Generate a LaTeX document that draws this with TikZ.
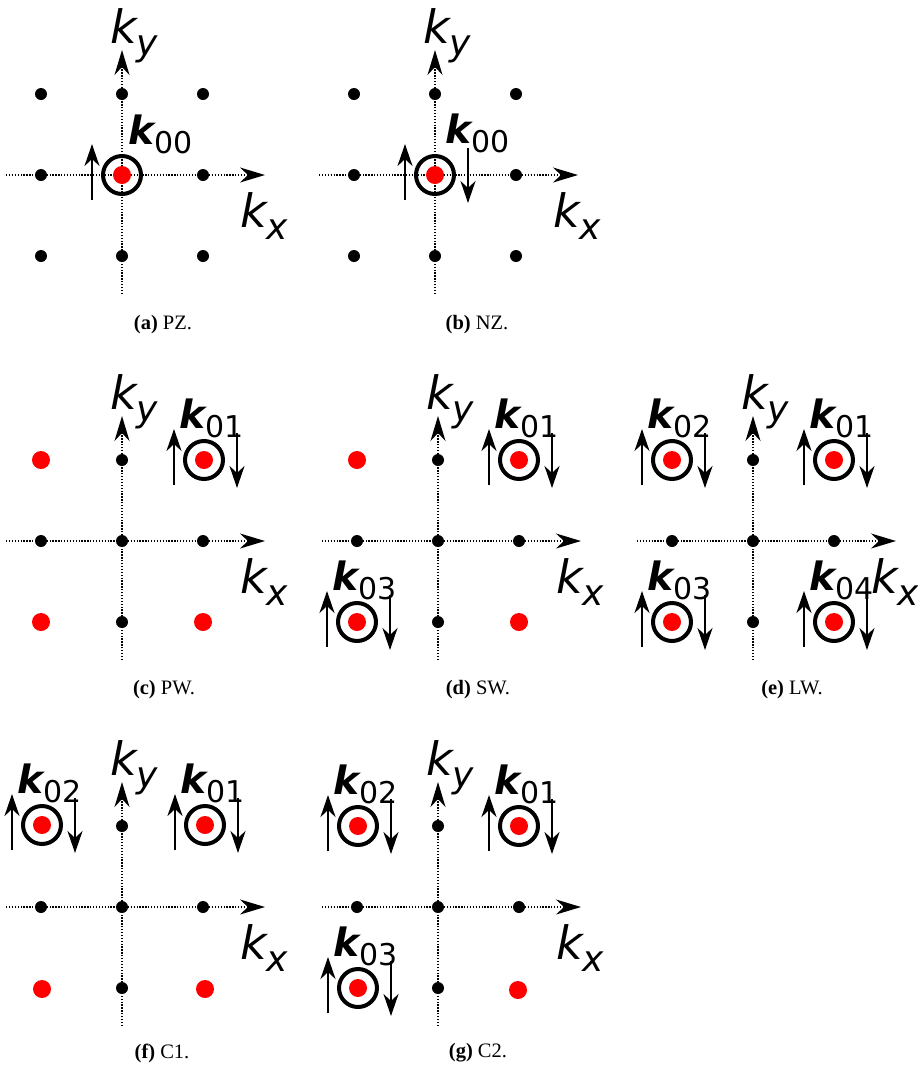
\documentclass[tikz,border=0pt]{standalone}
\usepackage{fontspec}
\setmainfont{Liberation Serif}
\setsansfont{DejaVu Sans}
\usetikzlibrary{arrows.meta}

\newcommand{\kax}[1]{{\fontsize{46}{46}\selectfont\itshape k}\raisebox{-12pt}{\fontsize{36}{36}\selectfont\itshape #1}}
\newcommand{\kvec}[1]{{\fontsize{39}{39}\selectfont\bfseries\itshape k}\raisebox{-9pt}{\fontsize{30}{30}\selectfont #1}}

\newcommand{\kaxes}[1]{%
  \coordinate (#1-w) at (-116,0);
  \coordinate (#1-e) at (143,0);
  \coordinate (#1-s) at (0,119);
  \coordinate (#1-n) at (0,-125);
  \draw[axis] (#1-w) -- (#1-e);
  \draw[axis] (#1-s) -- (#1-n);
  \node[axlabel] (#1-kx) at (118,52) {\kax{x}};
  \node[axlabel] (#1-ky) at (-12,-132) {\kax{y}};
}
\newcommand{\kgrid}[1]{%
  \foreach \i/\x/\y in {1/-81/-81,2/0/-81,3/81/-81,4/-81/0,5/81/0,6/-81/81,7/0/81,8/81/81}
    \node[bdot] (#1-\i) at (\x,\y) {};
}
\newcommand{\kcross}[1]{%
  \foreach \i/\x/\y in {1/0/-81,2/-81/0,3/0/0,4/81/0,5/0/81}
    \node[bdot] (#1-\i) at (\x,\y) {};
}
\newcommand{\ksite}[3]{%
  \node[rdot] (#1-c) at (#2,#3) {};
  \node[ring] (#1) at (#2,#3) {};
}
\newcommand{\kup}[1]{%
  \coordinate (#1-u0) at ([shift={(-30,25)}]#1.center);
  \coordinate (#1-u1) at ([shift={(-30,-31)}]#1.center);
  \draw[spin] (#1-u0) -- (#1-u1);
}
\newcommand{\kdown}[1]{%
  \coordinate (#1-d0) at ([shift={(33,-27)}]#1.center);
  \coordinate (#1-d1) at ([shift={(33,28)}]#1.center);
  \draw[spin] (#1-d0) -- (#1-d1);
}
\newcommand{\kpair}[2]{%
  \kup{#1}\kdown{#1}
  \node[klabel] (#1-l) at ([shift={(-25,-32)}]#1.center) {\kvec{#2}};
}

\begin{document}
\begin{tikzpicture}[x=1pt,y=-1pt,
  axis/.style={line width=1.3pt, dash pattern=on 1.3pt off 1.6pt,
    -{Stealth[length=25pt,width=15pt,inset=8pt]}},
  spin/.style={line width=2.5pt, -{Stealth[length=22pt,width=15pt,inset=7pt]}},
  bdot/.style={circle, fill=black, inner sep=0pt, minimum size=12pt},
  rdot/.style={circle, fill=red, inner sep=0pt, minimum size=18pt},
  ring/.style={circle, draw=black, line width=4pt, inner sep=0pt, minimum size=38pt},
  klabel/.style={anchor=base west, inner sep=0pt, font=\sffamily},
  axlabel/.style={anchor=base west, inner sep=0pt, font=\sffamily},
  caption/.style={font=\fontsize{20.5}{20.5}\selectfont, inner sep=0pt}]
  \useasboundingbox (0,0) rectangle (918,1069);

  \begin{scope}[shift={(122,175)}]
    \kaxes{a}
    \kgrid{a}
    \ksite{a-k00}{0}{0}
    \kup{a-k00}
    \node[klabel] (a-k00-l) at (6,-31) {\kvec{00}};
  \end{scope}

  \begin{scope}[shift={(435,175)}]
    \kaxes{b}
    \kgrid{b}
    \ksite{b-k00}{0}{0}
    \kup{b-k00}
    \kdown{b-k00}
    \node[klabel] (b-k00-l) at (10,-32) {\kvec{00}};
  \end{scope}

  \begin{scope}[shift={(122,541)}]
    \kaxes{c}
    \kcross{c}
    \node[rdot] (c-r1) at (-81,-81) {};
    \node[rdot] (c-r2) at (-81,81) {};
    \node[rdot] (c-r3) at (81,81) {};
    \ksite{c-k01}{82}{-81}
    \kpair{c-k01}{01}
  \end{scope}

  \begin{scope}[shift={(438,541)}]
    \kaxes{d}
    \kcross{d}
    \node[rdot] (d-r1) at (-81,-81) {};
    \node[rdot] (d-r2) at (81,81) {};
    \ksite{d-k01}{81}{-81}
    \kpair{d-k01}{01}
    \ksite{d-k03}{-81}{81}
    \kpair{d-k03}{03}
  \end{scope}

  \begin{scope}[shift={(753,541)}]
    \kaxes{e}
    \kcross{e}
    \ksite{e-k02}{-81}{-81}
    \kpair{e-k02}{02}
    \ksite{e-k01}{81}{-81}
    \kpair{e-k01}{01}
    \ksite{e-k03}{-81}{81}
    \kpair{e-k03}{03}
    \ksite{e-k04}{81}{81}
    \kpair{e-k04}{04}
  \end{scope}

  \begin{scope}[shift={(122,907)}]
    \kaxes{f}
    \kcross{f}
    \node[rdot] (f-r1) at (-80,82) {};
    \node[rdot] (f-r2) at (83,82) {};
    \ksite{f-k02}{-80}{-82}
    \kpair{f-k02}{02}
    \ksite{f-k01}{83}{-82}
    \kpair{f-k01}{01}
  \end{scope}

  \begin{scope}[shift={(438,907)}]
    \kaxes{g}
    \kcross{g}
    \node[rdot] (g-r1) at (80,83) {};
    \ksite{g-k02}{-80}{-81}
    \kpair{g-k02}{02}
    \ksite{g-k01}{81}{-81}
    \kpair{g-k01}{01}
    \ksite{g-k03}{-80}{81}
    \kpair{g-k03}{03}
  \end{scope}

  \node[caption] (cap-a) at (163,325) {\textbf{(a)} PZ.};
  \node[caption] (cap-b) at (477,325) {\textbf{(b)} NZ.};
  \node[caption] (cap-c) at (164,690) {\textbf{(c)} PW.};
  \node[caption] (cap-d) at (478,690) {\textbf{(d)} SW.};
  \node[caption] (cap-e) at (792,690) {\textbf{(e)} LW.};
  \node[caption] (cap-f) at (162,1053) {\textbf{(f)} C1.};
  \node[caption] (cap-g) at (478,1053) {\textbf{(g)} C2.};
\end{tikzpicture}
\end{document}
